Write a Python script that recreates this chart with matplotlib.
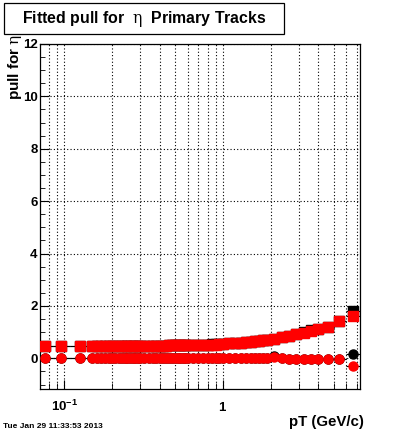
import numpy as np
import matplotlib
matplotlib.use("Agg")
import matplotlib.pyplot as plt
from matplotlib.patches import Rectangle
from matplotlib.ticker import LogLocator, MultipleLocator, NullFormatter

plt.rcParams['font.family'] = ['Liberation Sans', 'DejaVu Sans']
plt.rcParams['mathtext.fontset'] = 'custom'
plt.rcParams['mathtext.rm'] = 'DejaVu Serif'
plt.rcParams['mathtext.it'] = 'DejaVu Serif:italic'
plt.rcParams['mathtext.bf'] = 'Liberation Sans:bold'

# pT bin centres (GeV/c)
pt = [0.075, 0.095, 0.125,
      0.15, 0.16, 0.17, 0.18, 0.19, 0.20, 0.21, 0.22, 0.23, 0.24, 0.25, 0.26, 0.27, 0.28, 0.29, 0.30,
      0.32, 0.34, 0.36, 0.38, 0.40, 0.42, 0.44, 0.46, 0.48, 0.50, 0.52, 0.54, 0.56, 0.58, 0.60,
      0.65, 0.70, 0.75, 0.80, 0.85, 0.90, 0.95, 1.00,
      1.1, 1.2, 1.3, 1.4, 1.5, 1.6, 1.7, 1.8,
      1.9, 2.1, 2.35, 2.6, 2.9, 3.25, 3.6, 4.0, 4.6, 5.4, 6.6]

# fitted sigma of the pull (squares)
sigma_red = [0.47, 0.47, 0.47,
             0.47, 0.47, 0.47, 0.47, 0.47, 0.47, 0.47, 0.47, 0.47, 0.47, 0.47, 0.47, 0.47, 0.47, 0.47, 0.47,
             0.48, 0.48, 0.48, 0.48, 0.48, 0.48, 0.48, 0.50, 0.50, 0.50, 0.50, 0.50, 0.50, 0.50, 0.50,
             0.52, 0.52, 0.52, 0.52, 0.52, 0.52, 0.53, 0.54,
             0.57, 0.58, 0.60, 0.62, 0.63, 0.65, 0.67, 0.69,
             0.71, 0.75, 0.80, 0.86, 0.92, 0.98, 1.04, 1.12, 1.21, 1.41, 1.60]
sigma_black = [0.47, 0.47, 0.47,
               0.47, 0.47, 0.47, 0.47, 0.47, 0.47, 0.47, 0.47, 0.47, 0.47, 0.47, 0.47, 0.47, 0.47, 0.47, 0.47,
               0.48, 0.48, 0.48, 0.48, 0.48, 0.48, 0.48, 0.50, 0.50, 0.50, 0.50, 0.50, 0.50, 0.50, 0.50,
               0.52, 0.52, 0.52, 0.52, 0.55, 0.55, 0.56, 0.54,
               0.57, 0.58, 0.60, 0.62, 0.63, 0.65, 0.67, 0.69,
               0.71, 0.75, 0.80, 0.86, 0.92, 1.01, 1.07, 1.12, 1.21, 1.41, 1.82]

# fitted mean of the pull (circles)
mean_red = [0.0, 0.0, 0.0,
            0.0, 0.0, 0.0, 0.0, 0.0, 0.0, 0.0, 0.0, 0.0, 0.0, 0.0, 0.0, 0.0, 0.0, 0.0, 0.0,
            0.0, 0.0, 0.0, 0.0, 0.0, 0.0, 0.0, 0.0, 0.0, 0.0, 0.0, 0.0, 0.0, 0.0, 0.0,
            0.0, 0.0, 0.0, 0.0, 0.0, 0.0, 0.0, 0.0,
            0.0, 0.0, 0.0, 0.0, 0.0, 0.0, 0.0, 0.0,
            0.01, 0.05, 0.0, -0.01, -0.01, -0.02, -0.02, -0.03, -0.03, -0.02, -0.30]
mean_black = [0.0, 0.0, 0.0,
              0.0, 0.0, 0.0, 0.0, 0.0, 0.0, 0.0, 0.0, 0.0, 0.0, 0.0, 0.0, 0.0, 0.0, 0.0, 0.0,
              0.0, 0.0, 0.0, 0.0, 0.0, 0.0, 0.0, 0.0, 0.0, 0.0, 0.0, 0.0, 0.0, 0.0, 0.0,
              0.0, 0.0, 0.0, 0.0, 0.0, 0.0, 0.0, 0.0,
              0.0, 0.0, 0.0, 0.0, 0.0, 0.0, 0.0, 0.0,
              0.01, 0.09, 0.0, -0.01, -0.01, -0.02, -0.02, -0.03, -0.03, -0.02, 0.16]

ytick_vals = [0, 2, 4, 6, 8, 10, 12]
xtick_vals = [0.1, 1]
xtick_labels = [r'$\mathbf{10^{-1}}$', r'$\mathbf{1}$']

# bin edges halfway (in log) between centres
x = np.array(pt)
lx = np.log10(x)
mid = 10 ** ((lx[1:] + lx[:-1]) / 2)
lo_edge = np.concatenate([[x[0] ** 2 / mid[0]], mid])
hi_edge = np.concatenate([mid, [x[-1] ** 2 / mid[-1]]])
xerr = [x - lo_edge, hi_edge - x]

fig = plt.figure(figsize=(4, 4.33), dpi=100)
ax = fig.add_axes([0.101, 0.1016, 0.799, 0.7968])

ax.set_xscale('log')
ax.set_xlim(0.0706, 7.32)
ax.set_ylim(-1.17, 12)

for yv in [sigma_black, mean_black, sigma_red, mean_red]:
    ax.errorbar(pt, yv, xerr=xerr, fmt='none', ecolor='black', elinewidth=0.8, capsize=0, zorder=2)

ax.plot(pt, sigma_black, 's', color='black', ms=6.5, zorder=3)
ax.plot(pt, mean_black, 'o', color='black', ms=6.5, zorder=3)
ax.plot(pt, sigma_red, 's', color='red', ms=6.5, zorder=4)
ax.plot(pt, mean_red, 'o', color='red', ms=6.5, zorder=4)

# axes / ticks in ROOT style
ax.set_yticks(ytick_vals)
ax.set_yticklabels([str(v) for v in ytick_vals], fontsize=9.5, fontweight='bold')
ax.yaxis.set_minor_locator(MultipleLocator(0.5))
ax.set_xticks(xtick_vals)
ax.set_xticklabels(xtick_labels, fontsize=9.5)
ax.xaxis.set_minor_locator(LogLocator(base=10, subs=np.arange(2, 10)))
ax.xaxis.set_minor_formatter(NullFormatter())
ax.tick_params(which='both', direction='in', top=False, right=False, color='black')
ax.tick_params(axis='y', which='major', length=6.5, pad=2)
ax.tick_params(axis='y', which='minor', length=3.5)
ax.tick_params(axis='x', which='major', length=6.5, pad=15.5)
ax.tick_params(axis='x', which='minor', length=4)
for lbl in ax.get_xticklabels():
    lbl.set_va('baseline')

ax.xaxis.grid(True, which='both', linestyle=(0, (1, 2)), color='black', lw=0.8)
ax.yaxis.grid(True, which='major', linestyle=(0, (1, 2)), color='black', lw=0.8)
ax.set_axisbelow(True)
for sp in ax.spines.values():
    sp.set_linewidth(0.9)

# axis titles
fig.text(0.91, 0.016, 'pT (GeV/c)', ha='right', va='baseline', fontsize=10.8, fontweight='bold')
fig.text(0.038, 0.921, r'pull for $\mathrm{\eta}$', rotation=90, ha='center', va='top',
         fontsize=11, fontweight='bold')

# title box
fig.add_artist(Rectangle((0.01, 0.9215), 0.7, 0.0716, transform=fig.transFigure,
                         facecolor='white', edgecolor='black', lw=0.9))
fig.text(0.36, 0.957, r'Fitted pull for  $\mathrm{\eta}$  Primary Tracks', ha='center', va='center',
         fontsize=11.4, fontweight='bold')

fig.text(0.007, 0.0127, 'Tue Jan 29 11:33:53 2013', ha='left', va='baseline', fontsize=6, fontweight='bold')

fig.savefig('out.png', dpi=100)
